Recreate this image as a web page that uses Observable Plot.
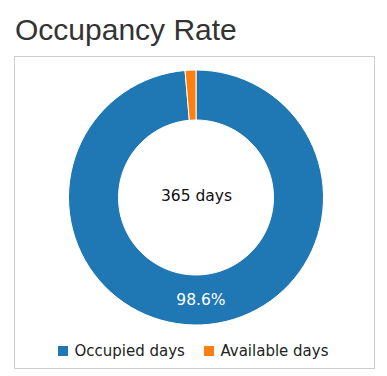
<!DOCTYPE html>
<html><head><meta charset="utf-8">
<script src="https://cdn.jsdelivr.net/npm/d3@7"></script>
<script src="https://cdn.jsdelivr.net/npm/@observablehq/plot@0.6"></script>
<style>
body{margin:0;background:#fff;}
#title{position:absolute;left:15px;top:15px;margin:0;font:30px/30px "Liberation Sans",Arial,sans-serif;color:#333;font-weight:normal;white-space:nowrap;}
#box{position:absolute;left:14px;top:56px;width:359px;height:311px;border:1px solid #ccc;}
#chart svg{display:block;}
#legend{position:absolute;left:43px;top:285.8px;display:flex;font:15px/16px "DejaVu Sans",sans-serif;color:#222;white-space:nowrap;}
.item{display:flex;align-items:center;margin-right:19px;}
.sw{width:10px;height:10px;margin-right:6.5px;}
</style></head>
<body>
<h2 id="title"></h2>
<div id="box"><div id="chart"></div><div id="legend"></div></div>
<script>
const title = "Occupancy Rate";
const categories = ["Occupied days", "Available days"];
const days = [360, 5];
const colors = ["#1f77b4", "#ff7f0e"];
const centerLabel = "365 days";

document.getElementById("title").textContent = title;

const total = d3.sum(days);
const pie = d3.pie().sort(null).value(d => d)(days);
const innerR = 77.5 / 127.5, outerR = 1;
const midR = (innerR + outerR) / 2;
const rows = categories.map((c, i) => {
  const a = (pie[i].startAngle + pie[i].endAngle) / 2;
  const share = days[i] / total;
  return {category: c, value: days[i], share, start: pie[i].startAngle, end: pie[i].endAngle,
    lx: midR * Math.sin(a), ly: midR * Math.cos(a), label: (share * 100).toFixed(1) + "%"};
});

const color = Plot.scale({color: {type: "ordinal", domain: categories, range: colors}});

function donut(data) {
  return (index, scales) => {
    const x = scales.x, y = scales.y;
    const cx = x(0), cy = y(0);
    const R = x(outerR) - x(0), r = x(innerR) - x(0);
    const arc = d3.arc().innerRadius(r).outerRadius(R);
    const g = d3.create("svg:g").attr("transform", `translate(${cx},${cy})`);
    g.selectAll("path").data(data).join("path")
      .attr("d", d => arc({startAngle: d.start, endAngle: d.end}))
      .attr("fill", d => color.apply(d.category))
      .attr("stroke", "#fff").attr("stroke-width", 1);
    return g.node();
  };
}

const cxp = 181, cyp = 140.5, Rp = 127.5;
const chart = Plot.plot({
  width: 359, height: 280, margin: 0,
  x: {domain: [-1, 1], range: [cxp - Rp, cxp + Rp], axis: null},
  y: {domain: [-1, 1], range: [cyp + Rp, cyp - Rp], axis: null},
  style: {fontFamily: "DejaVu Sans", fontSize: "15.5px", background: "white"},
  marks: [
    donut(rows),
    Plot.text([{x: 0, y: 0, t: centerLabel}], {x: "x", y: "y", text: "t", dy: -2, fill: "#111", fontSize: 15.5}),
    Plot.text(rows.filter(d => d.share > 0.1), {x: "lx", y: "ly", text: "label", fill: "white", fontSize: 15.5})
  ]
});
document.getElementById("chart").append(chart);

const legend = document.getElementById("legend");
categories.forEach(c => {
  const item = document.createElement("div");
  item.className = "item";
  const sw = document.createElement("span");
  sw.className = "sw";
  sw.style.background = color.apply(c);
  const lab = document.createElement("span");
  lab.textContent = c;
  item.append(sw, lab);
  legend.append(item);
});
</script>
</body></html>
